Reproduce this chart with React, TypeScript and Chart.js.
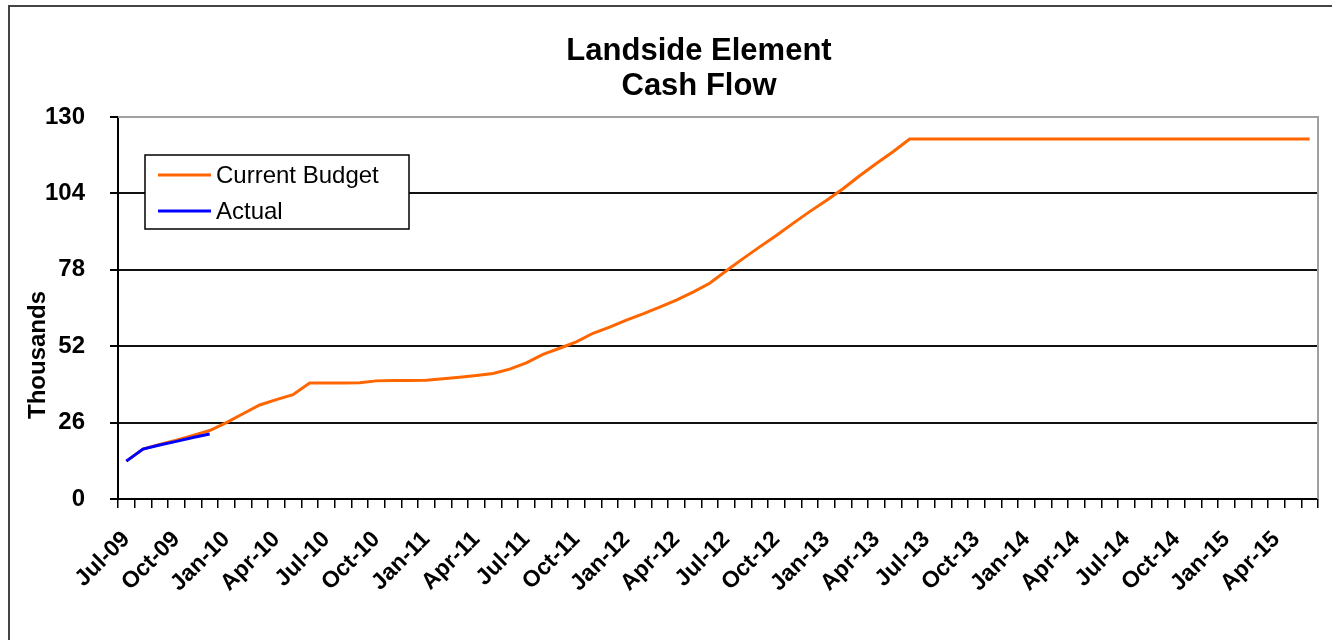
import React, { useEffect, useRef } from "react";
import { Chart, registerables } from "chart.js";

Chart.register(...registerables);

const months: string[] = [
  "Jul-09", "Aug-09", "Sep-09", "Oct-09", "Nov-09", "Dec-09",
  "Jan-10", "Feb-10", "Mar-10", "Apr-10", "May-10", "Jun-10",
  "Jul-10", "Aug-10", "Sep-10", "Oct-10", "Nov-10", "Dec-10",
  "Jan-11", "Feb-11", "Mar-11", "Apr-11", "May-11", "Jun-11",
  "Jul-11", "Aug-11", "Sep-11", "Oct-11", "Nov-11", "Dec-11",
  "Jan-12", "Feb-12", "Mar-12", "Apr-12", "May-12", "Jun-12",
  "Jul-12", "Aug-12", "Sep-12", "Oct-12", "Nov-12", "Dec-12",
  "Jan-13", "Feb-13", "Mar-13", "Apr-13", "May-13", "Jun-13",
  "Jul-13", "Aug-13", "Sep-13", "Oct-13", "Nov-13", "Dec-13",
  "Jan-14", "Feb-14", "Mar-14", "Apr-14", "May-14", "Jun-14",
  "Jul-14", "Aug-14", "Sep-14", "Oct-14", "Nov-14", "Dec-14",
  "Jan-15", "Feb-15", "Mar-15", "Apr-15", "May-15", "Jun-15",
];

// Labels shown on the axis (every third month)
const shownLabels: string[] = [
  "Jul-09", "Oct-09", "Jan-10", "Apr-10", "Jul-10", "Oct-10", "Jan-11", "Apr-11",
  "Jul-11", "Oct-11", "Jan-12", "Apr-12", "Jul-12", "Oct-12", "Jan-13", "Apr-13",
  "Jul-13", "Oct-13", "Jan-14", "Apr-14", "Jul-14", "Oct-14", "Jan-15", "Apr-15",
];

const currentBudget: number[] = [
  12.9, 17.0, 18.6, 20.0, 21.6, 23.3,
  26.0, 29.0, 32.0, 33.8, 35.5, 39.5,
  39.5, 39.5, 39.6, 40.2, 40.3, 40.3,
  40.4, 40.9, 41.4, 42.0, 42.7, 44.2,
  46.3, 49.2, 51.3, 53.5, 56.4, 58.5,
  60.9, 63.0, 65.3, 67.7, 70.4, 73.4,
  77.7, 81.8, 85.8, 89.7, 93.8, 97.8,
  101.6, 105.6, 110.0, 114.2, 118.2, 122.5,
  122.5, 122.5, 122.5, 122.5, 122.5, 122.5,
  122.5, 122.5, 122.5, 122.5, 122.5, 122.5,
  122.5, 122.5, 122.5, 122.5, 122.5, 122.5,
  122.5, 122.5, 122.5, 122.5, 122.5, 122.5,
];

const actual: (number | null)[] = [12.9, 17.0, 18.4, 19.6, 20.9, 22.1];

const yTicks: number[] = [0, 26, 52, 78, 104, 130];

const titleLines: string[] = ["Landside Element", "Cash Flow"];
const yTitle = "Thousands";
const seriesNames: string[] = ["Current Budget", "Actual"];
const seriesColors: string[] = ["#FF6600", "#0000FF"];

const FONT = "'Liberation Sans', Arial, sans-serif";

const decorPlugin = {
  id: "decor",
  beforeDatasetsDraw(chart: any) {
    const { ctx, chartArea } = chart;
    ctx.save();
    ctx.strokeStyle = "#a0a0a0";
    ctx.lineWidth = 2;
    ctx.beginPath();
    ctx.moveTo(chartArea.left, chartArea.top);
    ctx.lineTo(chartArea.right, chartArea.top);
    ctx.lineTo(chartArea.right, chartArea.bottom);
    ctx.stroke();
    ctx.restore();
  },
  afterDraw(chart: any) {
    const { ctx } = chart;
    ctx.save();
    // Title
    ctx.fillStyle = "#000";
    ctx.font = `bold 31px ${FONT}`;
    ctx.textAlign = "center";
    ctx.textBaseline = "alphabetic";
    ctx.fillText(titleLines[0], 699, 60);
    ctx.fillText(titleLines[1], 699, 95);

    // Y axis title
    ctx.save();
    ctx.translate(45, 355);
    ctx.rotate(-Math.PI / 2);
    ctx.font = `bold 24px ${FONT}`;
    ctx.textAlign = "center";
    ctx.textBaseline = "alphabetic";
    ctx.fillText(yTitle, 0, 0);
    ctx.restore();

    // Legend
    const lx = 145, ly = 155, lw = 264, lh = 74;
    ctx.fillStyle = "#fff";
    ctx.fillRect(lx, ly, lw, lh);
    ctx.strokeStyle = "#000";
    ctx.lineWidth = 1.5;
    ctx.strokeRect(lx, ly, lw, lh);
    ctx.font = `24px ${FONT}`;
    ctx.textAlign = "left";
    ctx.textBaseline = "middle";
    const rows = [175, 211];
    for (let i = 0; i < 2; i++) {
      ctx.strokeStyle = seriesColors[i];
      ctx.lineWidth = 3;
      ctx.beginPath();
      ctx.moveTo(158, rows[i]);
      ctx.lineTo(211, rows[i]);
      ctx.stroke();
      ctx.fillStyle = "#000";
      ctx.fillText(seriesNames[i], 216, rows[i] + 1);
    }
    ctx.restore();
  },
};

export default function App() {
  const canvasRef = useRef<HTMLCanvasElement | null>(null);

  useEffect(() => {
    if (!canvasRef.current) return;
    const chart = new Chart(canvasRef.current, {
      type: "line",
      data: {
        labels: months,
        datasets: [
          {
            label: seriesNames[1],
            data: actual,
            borderColor: seriesColors[1],
            backgroundColor: seriesColors[1],
            borderWidth: 3,
            pointRadius: 0,
            tension: 0,
            spanGaps: false,
          },
          {
            label: seriesNames[0],
            data: currentBudget,
            borderColor: seriesColors[0],
            backgroundColor: seriesColors[0],
            borderWidth: 3,
            pointRadius: 0,
            tension: 0,
          },
        ],
      },
      options: {
        animation: false,
        responsive: false,
        maintainAspectRatio: false,
        layout: { padding: { top: 117, right: 14, left: 0, bottom: 0 } },
        plugins: {
          legend: { display: false },
          title: { display: false },
          tooltip: { enabled: false },
        },
        scales: {
          x: {
            type: "category",
            offset: true,
            grid: {
              offset: true,
              drawOnChartArea: false,
              drawTicks: true,
              tickLength: 9,
              color: "#000",
              lineWidth: 1.5,
            },
            border: { display: true, color: "#000", width: 2 },
            ticks: {
              autoSkip: false,
              maxRotation: 45,
              minRotation: 45,
              padding: 18,
              color: "#000",
              font: { family: FONT, size: 23, weight: "bold" },
              callback: (_v: any, idx: number) =>
                shownLabels.includes(months[idx]) ? months[idx] : "",
            },
            afterFit: (scale: any) => {
              scale.height = 141;
              scale.paddingRight = 0;
              scale.paddingLeft = 0;
            },
          },
          y: {
            min: 0,
            max: 130,
            afterBuildTicks: (scale: any) => {
              scale.ticks = yTicks.map((v) => ({ value: v }));
            },
            grid: {
              color: (c: any) => (c.tick && c.tick.value === 130 ? "#a0a0a0" : "#111"),
              tickColor: "#000",
              lineWidth: 2,
              tickLength: 8,
            },
            border: { display: true, color: "#000", width: 2 },
            ticks: {
              padding: 25,
              color: "#000",
              font: { family: FONT, size: 24, weight: "bold" },
            },
            afterFit: (scale: any) => {
              scale.width = 118;
            },
          },
        },
      },
      plugins: [decorPlugin],
    } as any);
    return () => chart.destroy();
  }, []);

  return (
    <div
      style={{
        position: "fixed",
        left: 0,
        top: 0,
        width: 1332,
        height: 640,
        overflow: "hidden",
        background: "#fff",
      }}
    >
      <div
        style={{
          position: "absolute",
          left: 8,
          top: 5,
          width: 1400,
          height: 700,
          border: "2px solid #444",
          boxSizing: "border-box",
        }}
      />
      <canvas
        ref={canvasRef}
        width={1332}
        height={640}
        style={{ position: "absolute", left: 0, top: 0, width: 1332, height: 640 }}
      />
    </div>
  );
}
